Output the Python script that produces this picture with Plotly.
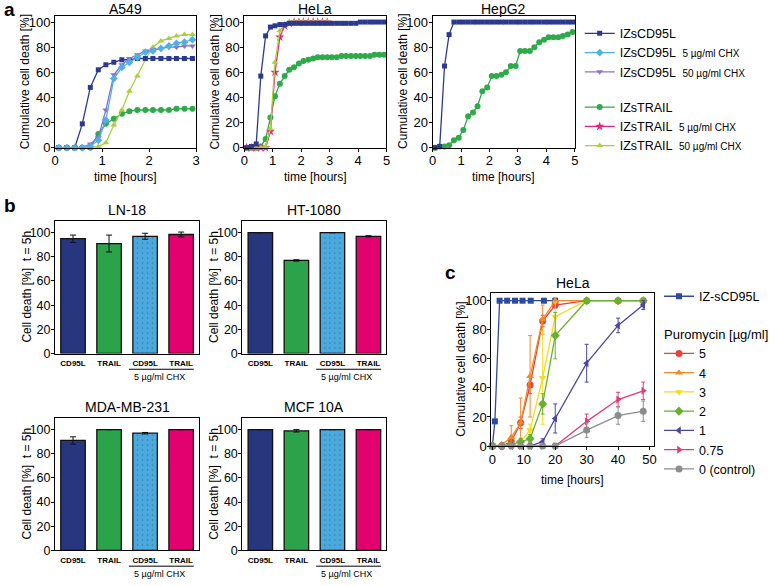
import plotly.graph_objects as go

W, H = 779, 586
FONT = "Arial, 'Liberation Sans', Helvetica, sans-serif"

# ---------------- Panel a data (cumulative cell death, %) ----------------
a549_t = [0.08, 0.25, 0.42, 0.58, 0.75, 0.92, 1.08, 1.25, 1.42, 1.58, 1.75, 1.92,
          2.08, 2.25, 2.42, 2.58, 2.75, 2.92]
a549_cd95l = [0, 0, 0, 19, 48, 62, 66, 68, 70, 70, 71, 71, 71, 71, 71, 71, 71, 71]
a549_cd95l_chx5 = [0, 0, 0, 0, 1, 6, 22, 55, 64, 68, 72, 76, 77, 79, 81, 83, 84, 86]
a549_cd95l_chx50 = [0, 0, 0, 0, 3, 8, 30, 58, 66, 71, 74, 77, 78, 79, 80, 80, 81, 81]
a549_trail = [0, 0, 0, 0, 0, 11, 19, 23, 27, 29, 30, 30, 30, 30, 30, 31, 31, 31]
a549_trail_chx50 = [0, 0, 0, 0, 0, 1, 4, 18, 30, 45, 57, 70, 80, 85, 87, 89, 90, 90]

hela_t = [0.08, 0.25, 0.42, 0.58, 0.75, 0.92, 1.08, 1.25, 1.42, 1.58, 1.75, 1.92,
          2.08, 2.25, 2.42, 2.58, 2.75, 2.92, 3.08, 3.25, 3.42, 3.58, 3.75, 3.92,
          4.08, 4.25, 4.42, 4.58, 4.75, 4.92]
hela_cd95l = [0, 1, 3, 57, 89, 96, 97, 98, 98, 99, 99, 99, 99, 99, 99, 99, 99, 99,
              99, 99, 99, 99, 99, 99, 100, 100, 100, 100, 100, 100]
hela_trail = [0, 0, 0, 1, 7, 24, 41, 51, 57, 62, 64, 67, 69, 70, 71, 72, 72, 72,
              72, 72, 73, 73, 73, 73, 73, 73, 73, 74, 74, 74]
hela_chx_t = [0.08, 0.25, 0.42, 0.58, 0.75, 0.92, 1.08, 1.25, 1.42, 1.58, 1.75, 1.92,
              2.08, 2.25, 2.42, 2.58, 2.75, 2.92]
hela_trail_chx5 = [0, 0, 0, 0, 0, 13, 60, 88, 97, 99, 100, 100, 100, 100, 100, 100, 100, 100]
hela_trail_chx50 = [0, 0, 0, 0, 1, 15, 68, 93, 98, 100, 100, 100, 100, 100, 100, 100, 100, 100]

hepg2_t = [0.08, 0.25, 0.42, 0.58, 0.75, 0.92, 1.08, 1.25, 1.42, 1.58, 1.75, 1.92,
           2.08, 2.25, 2.42, 2.58, 2.75, 2.92, 3.08, 3.25, 3.42, 3.58, 3.75, 3.92,
           4.08, 4.25, 4.42, 4.58, 4.75, 4.92]
hepg2_cd95l = [0, 1, 65, 90, 100, 100, 100, 100, 100, 100, 100, 100, 100, 100, 100,
               100, 100, 100, 100, 100, 100, 100, 100, 100, 100, 100, 100, 100, 100, 100]
hepg2_trail = [0, 1, 1, 2, 6, 8, 14, 25, 28, 33, 45, 48, 57, 57, 58, 60, 65, 65,
               77, 77, 77, 80, 84, 86, 88, 88, 88, 89, 90, 92]

# ---------------- Panel b data (cell death at t = 5h, %) ----------------
bar_labels = ["CD95L", "TRAIL", "CD95L", "TRAIL"]
ln18_vals = [95, 91, 97, 98.5]
ln18_err = [3, 7, 2.5, 2]
ht1080_vals = [100, 77, 100, 97]
ht1080_err = [0, 0.6, 0, 0.5]
mda_vals = [91, 100, 97, 100]
mda_err = [3, 0, 0.6, 0]
mcf_vals = [100, 99, 100, 100]
mcf_err = [0, 1, 0, 0]

# ---------------- Panel c data (HeLa, puromycin) ----------------
c_cd95l_t = [0, 0.8, 2.3, 4.7, 7.2, 9.6, 12.2, 16.4, 20]
c_cd95l = [0, 17, 100, 100, 100, 100, 100, 100, 100]
c_t = [0, 3, 6, 9, 12, 16, 20, 30, 40, 48]
puro_labels = ["5", "4", "3", "2", "1", "0.75", "0 (control)"]
puro_5 = [0, 0, 3, 16, 42, 86, 97, 100, 100, 100]
puro_5_err = [0, 0, 2, 4, 6, 4, 2, 0, 0, 0]
puro_4 = [0, 1, 6, 16, 48, 87, 100, 100, 100, 100]
puro_4_err = [0, 1, 8, 17, 28, 10, 2, 0, 0, 0]
puro_3 = [0, 0, 1, 3, 11, 47, 89, 100, 100, 100]
puro_3_err = [0, 0, 1, 3, 4, 32, 10, 0, 0, 0]
puro_2 = [0, 0, 1, 3, 5, 29, 76, 100, 100, 100]
puro_2_err = [0, 0, 1, 2, 3, 7, 16, 0, 0, 0]
puro_1 = [0, 0, 0, 0, 0, 3, 19, 57, 83, 97]
puro_1_err = [0, 0, 0, 0, 0, 2, 10, 13, 5, 3]
puro_075 = [0, 0, 0, 0, 0, 0, 0, 17, 32, 38]
puro_075_err = [0, 0, 0, 0, 0, 0, 0, 5, 5, 6]
puro_0 = [0, 0, 0, 0, 0, 0, 0, 11, 21, 24]
puro_0_err = [0, 0, 0, 0, 0, 0, 0, 5, 6, 7]

# ---------------- colours ----------------
C_CD95 = "#2b3a8f"
C_CD95_5 = "#4fb0e6"
C_CD95_50 = "#8a74c8"
C_TRAIL = "#2eaa4a"
C_TRAIL_5 = "#e8257c"
C_TRAIL_50 = "#a8d23c"
BAR_COLORS = ["#26367f", "#2aa34a", "#4aa9df", "#e3006f"]
PURO_COLORS = ["#e8403a", "#f08a2a", "#f2dc1e", "#6ab030", "#4c46a0", "#e03c7c", "#8c8c8c"]
PURO_SYMBOLS = ["circle", "triangle-up", "triangle-down", "diamond", "triangle-left",
                "triangle-right", "circle"]
C_C_CD95 = "#2e4a9e"


def px(xp):
    return xp / W


def py(yp):
    return 1 - yp / H


fig = go.Figure()

# ---------------- Panel a traces ----------------
def line_trace(x, y, color, symbol, name, xa, ya, show, group, rank, size=6):
    return go.Scatter(
        x=x, y=y, mode="lines+markers", name=name,
        line=dict(color=color, width=1.3),
        marker=dict(color=color, symbol=symbol, size=size, line=dict(width=0)),
        xaxis=xa, yaxis=ya, showlegend=show, legendgroup=group, legendrank=rank,
        legend="legend", cliponaxis=False,
    )

small = "<span style='font-size:10px'>%s</span>"
n_cd = "IZsCD95L"
n_cd5 = "IZsCD95L  " + small % "5 µg/ml CHX"
n_cd50 = "IZsCD95L  " + small % "50 µg/ml CHX"
n_tr = "IZsTRAIL"
n_tr5 = "IZsTRAIL  " + small % "5 µg/ml CHX"
n_tr50 = "IZsTRAIL  " + small % "50 µg/ml CHX"

# A549
fig.add_trace(line_trace(a549_t, a549_trail, C_TRAIL, "circle", n_tr, "x", "y", True, "trail", 4))
fig.add_trace(line_trace(a549_t, a549_trail_chx50, C_TRAIL_50, "triangle-up", n_tr50, "x", "y", True, "trail", 6))
fig.add_trace(line_trace(a549_t, a549_cd95l, C_CD95, "square", n_cd, "x", "y", True, "cd95", 1, 5))
fig.add_trace(line_trace(a549_t, a549_cd95l_chx50, C_CD95_50, "triangle-down", n_cd50, "x", "y", True, "cd95", 3))
fig.add_trace(line_trace(a549_t, a549_cd95l_chx5, C_CD95_5, "diamond", n_cd5, "x", "y", True, "cd95", 2))
# HeLa
fig.add_trace(line_trace(hela_t, hela_trail, C_TRAIL, "circle", n_tr, "x2", "y2", False, "trail", 4))
fig.add_trace(line_trace(hela_chx_t, hela_trail_chx5, C_TRAIL_5, "star", n_tr5, "x2", "y2", True, "trail", 5, 7))
fig.add_trace(line_trace(hela_chx_t, hela_trail_chx50, C_TRAIL_50, "triangle-up", n_tr50, "x2", "y2", False, "trail", 6))
fig.add_trace(line_trace(hela_t, hela_cd95l, C_CD95, "square", n_cd, "x2", "y2", False, "cd95", 1, 5))
# HepG2
fig.add_trace(line_trace(hepg2_t, hepg2_trail, C_TRAIL, "circle", n_tr, "x3", "y3", False, "trail", 4))
fig.add_trace(line_trace(hepg2_t, hepg2_cd95l, C_CD95, "square", n_cd, "x3", "y3", False, "cd95", 1, 5))

# ---------------- Panel b traces ----------------
bar_sets = [
    (ln18_vals, ln18_err, "x4", "y4"),
    (ht1080_vals, ht1080_err, "x5", "y5"),
    (mda_vals, mda_err, "x6", "y6"),
    (mcf_vals, mcf_err, "x7", "y7"),
]
for vals, errs, xa, ya in bar_sets:
    fig.add_trace(go.Bar(
        x=[0, 1, 2, 3], y=vals, xaxis=xa, yaxis=ya, showlegend=False,
        marker=dict(color=BAR_COLORS, line=dict(color="#111111", width=1.3),
                    pattern=dict(shape=["", "", ".", ""], fgcolor="#3a8fc0",
                                 size=5, solidity=0.08)),
        error_y=dict(type="data", array=errs, color="#111111", thickness=1, width=3),
        width=0.68,
    ))

# ---------------- Panel c traces ----------------
fig.add_trace(go.Scatter(
    x=c_cd95l_t, y=c_cd95l, mode="lines+markers", name="IZ-sCD95L",
    line=dict(color=C_C_CD95, width=1.3),
    marker=dict(color=C_C_CD95, symbol="square", size=6),
    xaxis="x8", yaxis="y8", legend="legend2", legendgroup="cd", cliponaxis=False,
))
puro_series = [(puro_5, puro_5_err), (puro_4, puro_4_err), (puro_3, puro_3_err),
               (puro_2, puro_2_err), (puro_1, puro_1_err), (puro_075, puro_075_err),
               (puro_0, puro_0_err)]
for i, (vals, errs) in enumerate(puro_series):
    fig.add_trace(go.Scatter(
        x=c_t, y=vals, mode="lines+markers", name=puro_labels[i],
        line=dict(color=PURO_COLORS[i], width=1.3),
        marker=dict(color=PURO_COLORS[i], symbol=PURO_SYMBOLS[i], size=7),
        error_y=dict(type="data", array=errs, color=PURO_COLORS[i], thickness=1, width=2),
        xaxis="x8", yaxis="y8", legend="legend2", legendgroup="puro",
        legendgrouptitle=dict(text="Puromycin [µg/ml]" if i == 0 else "",
                              font=dict(size=13, family=FONT, color="black")),
        cliponaxis=False,
    ))

# ---------------- axes ----------------
def ax_common(**kw):
    d = dict(showline=True, linecolor="black", linewidth=1, mirror=True,
             ticks="outside", ticklen=3, tickcolor="black", showgrid=False,
             zeroline=False, ticklabelstandoff=-2,
             tickfont=dict(size=13, family=FONT, color="black"))
    d.update(kw)
    return d

yt = dict(tickvals=[0, 20, 40, 60, 80, 100], range=[0, 105])
layout_axes = {}
# panel a
a_x = [((52, 196), [0, 3], [0, 1, 2, 3]), ((245, 390), [0, 5], [0, 1, 2, 3, 4, 5]),
       ((437, 582), [0, 5], [0, 1, 2, 3, 4, 5])]
for i, (dom, rng, tv) in enumerate(a_x):
    n = "" if i == 0 else str(i + 1)
    layout_axes["xaxis" + n] = ax_common(domain=[px(dom[0]), px(dom[1])], range=rng,
                                         tickvals=tv, anchor="y" + n)
    layout_axes["yaxis" + n] = ax_common(domain=[py(149), py(15)], anchor="x" + n, **yt)
# panel b
b_dom = [((52, 199), (223, 358)), ((243, 390), (223, 358)),
         ((52, 199), (423, 558)), ((243, 390), (423, 558))]
for i, (xd, yd) in enumerate(b_dom):
    n = str(i + 4)
    layout_axes["xaxis" + n] = ax_common(
        domain=[px(xd[0]), px(xd[1])], range=[-0.5, 3.5], tickvals=[0, 1, 2, 3],
        ticktext=bar_labels, ticks="", anchor="y" + n, ticklabelstandoff=2,
        tickfont=dict(size=8, family=FONT, color="black", weight="bold"))
    layout_axes["yaxis" + n] = ax_common(
        domain=[py(yd[1]), py(yd[0])], range=[0, 110],
        tickvals=[0, 20, 40, 60, 80, 100], anchor="x" + n,
        tickfont=dict(size=12.5, family=FONT, color="black"))
# panel c
layout_axes["xaxis8"] = ax_common(domain=[px(497), px(663)], range=[-0.3, 51.5],
                                  tickvals=[0, 10, 20, 30, 40, 50], anchor="y8")
layout_axes["yaxis8"] = ax_common(domain=[py(452), py(297)], anchor="x8", **yt)

# ---------------- annotations ----------------
ann = []

def text(x, y, s, size=12, bold=False, angle=0, xanchor="center"):
    ann.append(dict(x=px(x), y=py(y), xref="paper", yref="paper",
                    text=("<b>%s</b>" % s) if bold else s,
                    showarrow=False, textangle=angle, xanchor=xanchor, yanchor="middle",
                    font=dict(size=size, family=FONT, color="black")))

text(6, 9, "a", 19, bold=True)
text(6, 208, "b", 19, bold=True)
text(455, 276, "c", 19, bold=True)
for cx, t in [(124, "A549"), (317.5, "HeLa"), (509.5, "HepG2")]:
    text(cx, 8, t, 14)
    text(cx, 179, "time [hours]", 12)
for x in (21, 215, 407):
    text(x, 82, "Cumulative cell death [%]", 12, angle=-90)
for (xd, yd), t in zip(b_dom, ["LN-18", "HT-1080", "MDA-MB-231", "MCF 10A"]):
    text((xd[0] + xd[1]) / 2, yd[0] - 11, t, 14)
    text(xd[0] - 29, (yd[0] + yd[1]) / 2, "Cell death [%]  t = 5h", 12, angle=-90)
    cw = (xd[1] - xd[0]) / 4
    text(xd[0] + cw * 3.0 - 4, yd[1] + 24, "5 µg/ml CHX", 9)
text(580, 286, "HeLa", 14)
text(580, 486, "time [hours]", 12)
text(466, 374.5, "Cumulative cell death [%]", 12, angle=-90)

# underline shapes for CHX pairs
shapes = []
for i, (xd, yd) in enumerate(b_dom):
    shapes.append(dict(type="line", xref="x%d" % (i + 4), yref="paper",
                       x0=1.55, x1=3.35, y0=py(yd[1] + 16), y1=py(yd[1] + 16),
                       line=dict(color="black", width=1)))

fig.update_layout(
    width=W, height=H, margin=dict(l=0, r=0, t=0, b=0),
    paper_bgcolor="white", plot_bgcolor="white",
    font=dict(family=FONT, color="black"),
    annotations=ann, shapes=shapes, bargap=0.32,
    legend=dict(x=px(587), y=py(18), xanchor="left", yanchor="top",
                font=dict(size=12.5, family=FONT, color="black"),
                traceorder="grouped", tracegroupgap=16, itemwidth=30,
                bgcolor="rgba(0,0,0,0)"),
    legend2=dict(x=px(668), y=py(285), xanchor="left", yanchor="top",
                 font=dict(size=12.5, family=FONT, color="black"),
                 traceorder="grouped", tracegroupgap=18, itemwidth=30,
                 bgcolor="rgba(0,0,0,0)"),
    **layout_axes,
)

fig.write_html("out.html", config={"displayModeBar": False},
               post_script="document.body.style.margin='0';")
